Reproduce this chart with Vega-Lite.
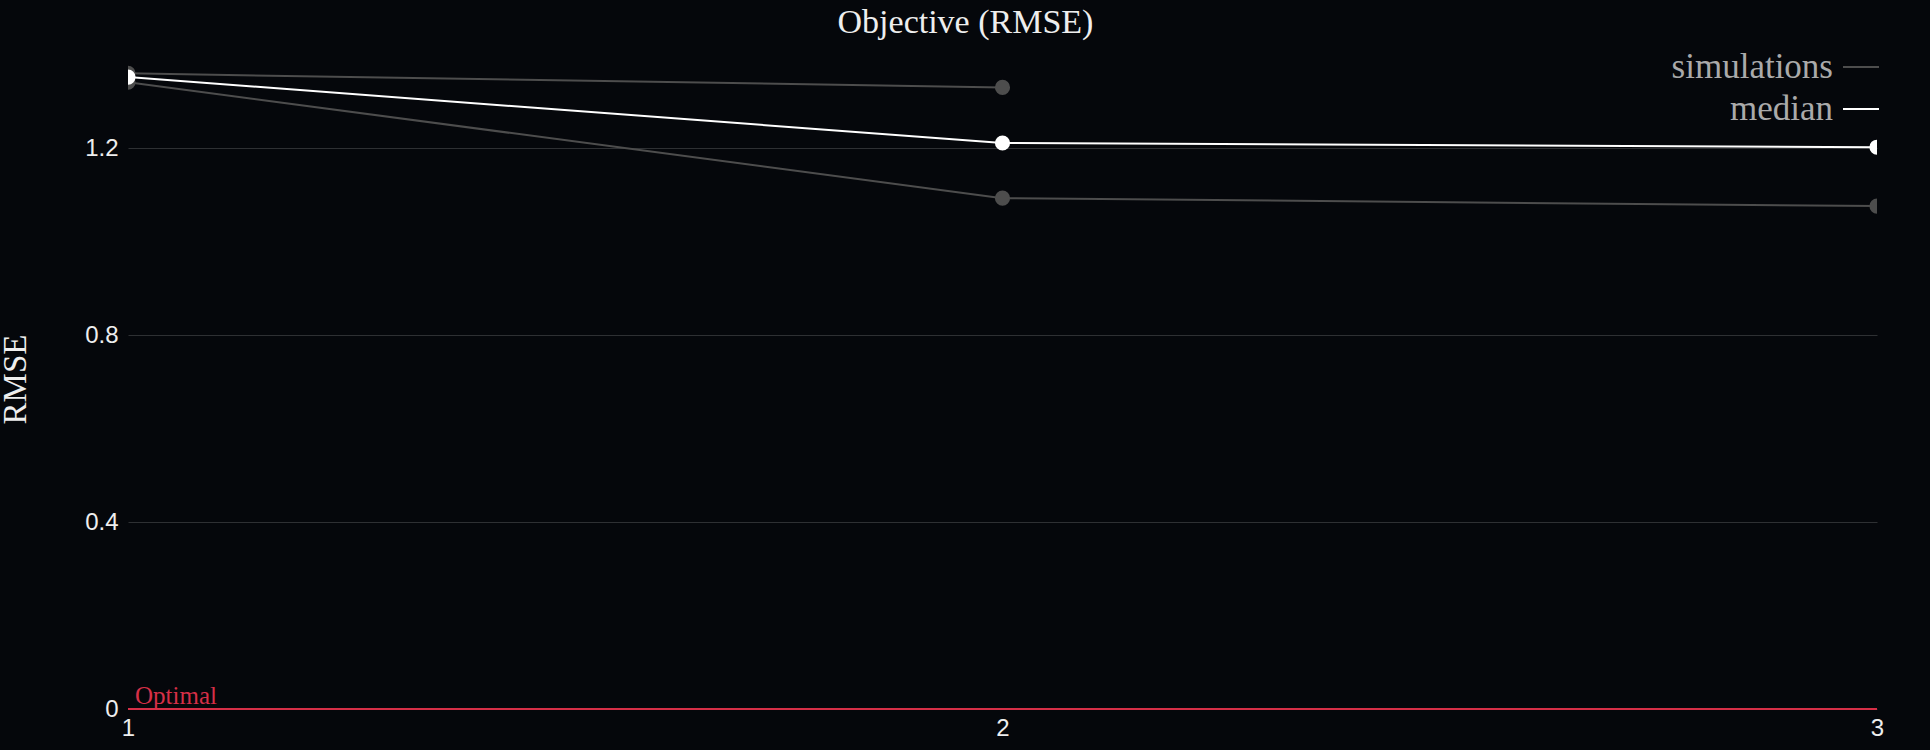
{
  "$schema": "https://vega.github.io/schema/vega-lite/v6.json",
  "background": "#05070b",
  "autosize": {"type": "none"},
  "padding": {"left": 128, "top": 50, "right": 53, "bottom": 41},
  "width": 1749,
  "height": 659,
  "title": {
    "text": "Objective (RMSE)",
    "font": "Liberation Serif",
    "fontSize": 34,
    "fontWeight": "normal",
    "color": "#eeeeee",
    "anchor": "middle",
    "dx": -37,
    "offset": 8
  },
  "data": {
    "values": [
      {"step": 1, "rmse": 1.360, "series": "simulations", "run": "a"},
      {"step": 2, "rmse": 1.330, "series": "simulations", "run": "a"},
      {"step": 1, "rmse": 1.341, "series": "simulations", "run": "b"},
      {"step": 2, "rmse": 1.093, "series": "simulations", "run": "b"},
      {"step": 3, "rmse": 1.076, "series": "simulations", "run": "b"},
      {"step": 1, "rmse": 1.352, "series": "median", "run": "median"},
      {"step": 2, "rmse": 1.211, "series": "median", "run": "median"},
      {"step": 3, "rmse": 1.202, "series": "median", "run": "median"}
    ]
  },
  "encoding": {
    "x": {
      "field": "step",
      "type": "quantitative",
      "scale": {"domain": [1, 3], "nice": false, "zero": false},
      "axis": {
        "title": null,
        "values": [1, 2, 3],
        "labelExpr": "format(datum.value, 'd')",
        "grid": false,
        "domain": false,
        "ticks": false,
        "labelPadding": 7,
        "labelFlush": false,
        "labelOverlap": false,
        "labelSeparation": 0,
        "labelFont": "Liberation Sans",
        "labelFontSize": 24,
        "labelColor": "#eeeeee"
      }
    },
    "y": {
      "field": "rmse",
      "type": "quantitative",
      "scale": {"domain": [0, 1.41], "nice": false, "zero": false},
      "axis": {
        "title": "RMSE",
        "values": [0, 0.4, 0.8, 1.2],
        "labelExpr": "datum.value == 0 ? '0' : format(datum.value, '.1f')",
        "grid": true,
        "gridColor": "#2e3033",
        "gridWidth": 1,
        "domain": false,
        "ticks": false,
        "labelPadding": 10,
        "labelFont": "Liberation Sans",
        "labelFontSize": 24,
        "labelColor": "#eeeeee",
        "titleFont": "Liberation Serif",
        "titleFontSize": 33,
        "titleFontWeight": "normal",
        "titleColor": "#eeeeee",
        "titleAngle": -90,
        "titleAlign": "center",
        "titleBaseline": "middle",
        "titleX": -113,
        "titleY": 329
      }
    }
  },
  "layer": [
    {
      "mark": {"type": "line", "strokeWidth": 2, "clip": true},
      "encoding": {
        "detail": {"field": "run"},
        "color": {
          "field": "series",
          "type": "nominal",
          "scale": {"domain": ["simulations", "median"], "range": ["#4d4d4d", "#ffffff"]},
          "legend": {
            "title": null,
            "orient": "none",
            "legendX": 1714,
            "legendY": -2,
            "padding": 0,
            "symbolType": "stroke",
            "symbolSize": 1296,
            "symbolStrokeWidth": 2,
            "labelFont": "Liberation Serif",
            "labelFontSize": 35,
            "labelColor": "#aaaaaa",
            "labelAlign": "right",
            "labelOffset": -47,
            "labelLimit": 400,
            "rowPadding": 5
          }
        }
      }
    },
    {
      "transform": [{"filter": "datum.series == 'simulations'"}],
      "mark": {"type": "circle", "size": 230, "color": "#4d4d4d", "opacity": 1, "clip": true}
    },
    {
      "transform": [{"filter": "datum.series == 'median'"}],
      "mark": {"type": "circle", "size": 230, "color": "#ffffff", "opacity": 1, "clip": true}
    },
    {
      "data": {"values": [{"step": 1, "rmse": 0, "label": "Optimal"}]},
      "layer": [
        {
          "mark": {"type": "rule", "color": "#d62f47", "strokeWidth": 2},
          "encoding": {"x": {"value": 0}, "x2": {"value": 1749}}
        },
        {
          "mark": {
            "type": "text",
            "align": "left",
            "baseline": "alphabetic",
            "dx": 7,
            "dy": -5,
            "font": "Liberation Serif",
            "fontSize": 25,
            "color": "#d62f47"
          },
          "encoding": {"text": {"field": "label"}}
        }
      ]
    }
  ],
  "config": {"view": {"stroke": null}}
}
